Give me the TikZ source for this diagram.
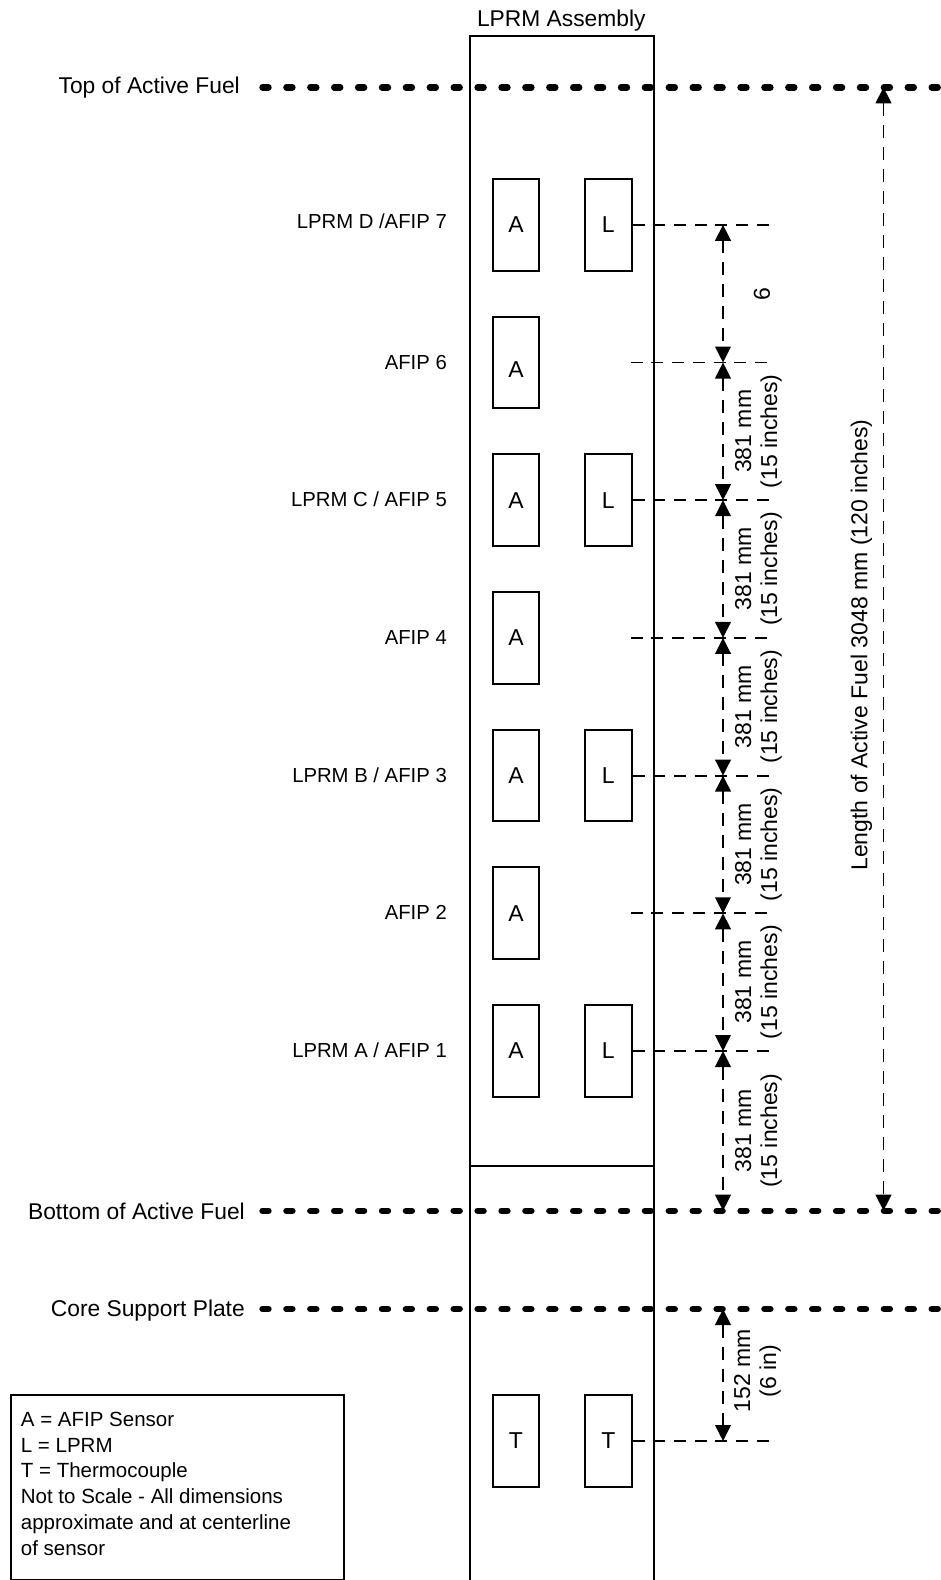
\documentclass[tikz,border=0pt]{standalone}
\usepackage{fontspec}
\setmainfont{Liberation Sans}
\usetikzlibrary{arrows.meta}
\tikzset{
  sensor/.style={draw, line width=2pt, minimum width=46.6pt, minimum height=91.7pt, inner sep=0pt, font=\fontsize{23}{27}\selectfont},
  rowlabel/.style={anchor=base east, inner sep=0pt, font=\fontsize{20.3}{24}\selectfont},
  levellabel/.style={anchor=base east, inner sep=0pt, font=\fontsize{22.8}{27}\selectfont},
  fuelline/.style={line width=6.4pt, line cap=round, dash pattern=on 6pt off 17.9pt},
  leader/.style={line width=1.8pt, dash pattern=on 12pt off 8.7pt},
  dimline/.style={line width=1.8pt, dash pattern=on 13pt off 9pt, {Triangle[length=16pt,width=15.7pt]}-{Triangle[length=16pt,width=15.7pt]}},
  dimlabel/.style={rotate=90, align=center, inner sep=0pt, font=\fontsize{23}{26}\selectfont},
  solidline/.style={line width=2pt},
}
\begin{document}
\begin{tikzpicture}[x=1pt,y=-1pt]
\useasboundingbox (0,0) rectangle (940,1580);

% assembly
\draw[solidline] (470,1590) -- (470,36) -- (654,36) -- (654,1590);
\draw[solidline] (470,1166) -- (654,1166);
\node[levellabel, anchor=base] (title) at (561.3,26) {LPRM Assembly};

% fuel / plate levels
\coordinate (topL) at (262.5,87.3);   \coordinate (topR) at (945,87.3);
\coordinate (botL) at (262.5,1210.7); \coordinate (botR) at (945,1210.7);
\coordinate (csL) at (262.5,1309);    \coordinate (csR) at (945,1309);
\draw[fuelline] (topL) -- (topR);
\draw[fuelline] (botL) -- (botR);
\draw[fuelline] (csL) -- (csR);
\node[levellabel] (toplab) at (240,93.7) {Top of Active Fuel};
\node[levellabel] (botlab) at (245,1219.3) {Bottom of Active Fuel};
\node[levellabel] (cslab) at (245,1316.7) {Core Support Plate};

% sensors
\node[sensor] (A7) at (516,224.8) {A};
\node[sensor] (L4) at (608.3,224.8) {L};
\node[sensor, text height=29.8pt, text depth=0pt] (A6) at (516,362.5) {A};
\node[sensor] (A5) at (516,500.2) {A};
\node[sensor] (L3) at (608.3,500.2) {L};
\node[sensor] (A4) at (516,637.9) {A};
\node[sensor] (A3) at (516,775.6) {A};
\node[sensor] (L2) at (608.3,775.6) {L};
\node[sensor] (A2) at (516,913.3) {A};
\node[sensor] (A1) at (516,1051) {A};
\node[sensor] (L1) at (608.3,1051) {L};
\node[sensor] (T1) at (516,1441) {T};
\node[sensor] (T2) at (608.3,1441) {T};

% row labels
\node[rowlabel] (r7) at (447,228.3) {LPRM D /AFIP 7};
\node[rowlabel] (r6) at (447,369) {AFIP 6};
\node[rowlabel] (r5) at (447,506.7) {LPRM C / AFIP 5};
\node[rowlabel] (r4) at (447,644.4) {AFIP 4};
\node[rowlabel] (r3) at (447,782.1) {LPRM B / AFIP 3};
\node[rowlabel] (r2) at (447,919.8) {AFIP 2};
\node[rowlabel] (r1) at (447,1057.5) {LPRM A / AFIP 1};

% leader line ends
\coordinate (e7) at (770,224.8);
\coordinate (s6) at (630.7,362.5); \coordinate (e6) at (770,362.5);
\coordinate (e5) at (770,500.2);
\coordinate (s4) at (630.7,637.9); \coordinate (e4) at (770,637.9);
\coordinate (e3) at (770,775.6);
\coordinate (s2) at (630.7,913.3); \coordinate (e2) at (770,913.3);
\coordinate (e1) at (770,1051);
\coordinate (eT) at (770,1441);
\draw[leader] (L4.east) -- (e7);
\draw[leader] (s6) -- (e6);
\draw[leader] (L3.east) -- (e5);
\draw[leader] (s4) -- (e4);
\draw[leader] (L2.east) -- (e3);
\draw[leader] (s2) -- (e2);
\draw[leader] (L1.east) -- (e1);
\draw[leader] (T2.east) -- (eT);

% dimension points
\coordinate (d7) at (723,224.8);
\coordinate (d6) at (723,362.5);
\coordinate (d5) at (723,500.2);
\coordinate (d4) at (723,637.9);
\coordinate (d3) at (723,775.6);
\coordinate (d2) at (723,913.3);
\coordinate (d1) at (723,1051);
\coordinate (d0) at (723,1210.7);
\coordinate (dc) at (723,1309);
\coordinate (dt) at (723,1441);
\draw[dimline] (d7) -- (d6);
\draw[dimline] (d6) -- (d5);
\draw[dimline] (d5) -- (d4);
\draw[dimline] (d4) -- (d3);
\draw[dimline] (d3) -- (d2);
\draw[dimline] (d2) -- (d1);
\draw[dimline] (d1) -- (d0);
\draw[dimline] (dc) -- (dt);

\node[dimlabel] (g76) at (762,293.6) {6};
\node[dimlabel] (g65) at (758.5,431.3) {381 mm\\(15 inches)};
\node[dimlabel] (g54) at (758.5,569) {381 mm\\(15 inches)};
\node[dimlabel] (g43) at (758.5,706.7) {381 mm\\(15 inches)};
\node[dimlabel] (g32) at (758.5,844.4) {381 mm\\(15 inches)};
\node[dimlabel] (g21) at (758.5,982.1) {381 mm\\(15 inches)};
\node[dimlabel] (g10) at (758.5,1130.8) {381 mm\\(15 inches)};
\node[dimlabel] (gct) at (757.5,1371) {152 mm\\(6 in)};

% length of active fuel
\coordinate (lt) at (883.5,87.3);
\coordinate (lb) at (883.5,1210.7);
\draw[dimline] (lt) -- (lb);
\node[dimlabel] (lenlab) at (861.5,645) {Length of Active Fuel 3048 mm (120 inches)};

% legend
\node[draw, solidline, anchor=north west, minimum width=333.3pt, minimum height=184.7pt, inner sep=0pt] (legend) at (10,1394.3) {};
\node[anchor=north west, align=left, inner sep=0pt, font=\fontsize{20.5}{25.7}\selectfont] (legtext) at (20.7,1412) {A = AFIP Sensor\\L = LPRM\\T = Thermocouple\\Not to Scale - All dimensions\\approximate and at centerline\\of sensor};
\end{tikzpicture}
\end{document}
